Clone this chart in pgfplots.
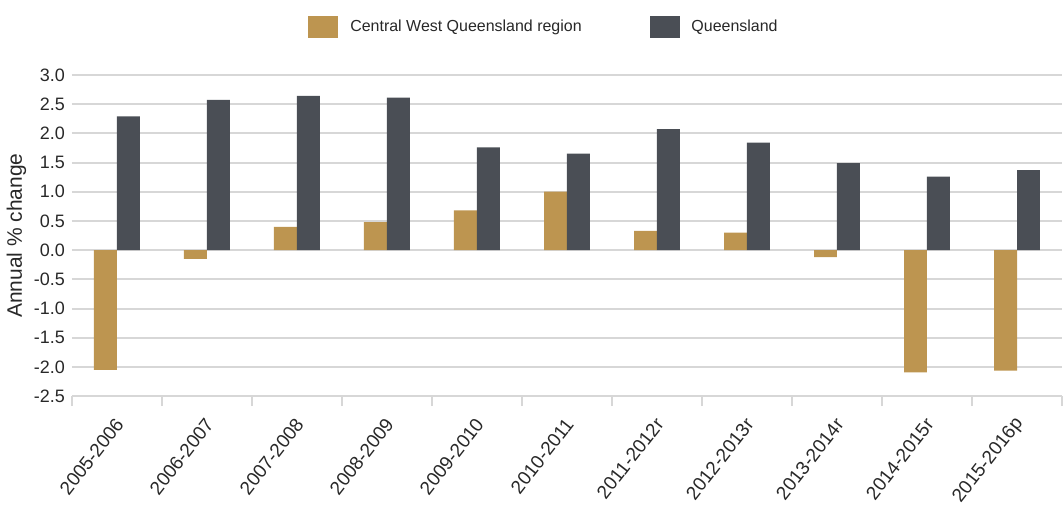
\documentclass[border=0pt]{standalone}
\usepackage{fontspec}
\setmainfont{Liberation Sans}
\usepackage{pgfplots}
\pgfplotsset{compat=1.18}
\definecolor{cwq}{RGB}{189,149,80}
\definecolor{qld}{RGB}{74,78,85}
\definecolor{gridc}{RGB}{215,215,215}
\definecolor{txt}{RGB}{40,40,40}

\begin{document}
\begin{tikzpicture}
\begin{axis}[
  scale only axis, width=496pt, height=161pt,
  ybar=0pt, bar width=11.5pt,
  xmin=-0.5, xmax=10.5, ymin=-2.5, ymax=3.0,
  xtick={0,...,10},
  xticklabels={2005-2006,2006-2007,2007-2008,2008-2009,2009-2010,2010-2011,2011-2012r,2012-2013r,2013-2014r,2014-2015r,2015-2016p},
  x tick label style={xshift=3.5pt, yshift=-9.5pt, rotate=52, anchor=east, font=\fontsize{9.5}{10}\selectfont, text=txt},
  minor xtick={-0.5,0.5,...,10.5},
  major tick length=0pt, minor tick length=5pt,
  tick align=outside,
  minor x tick style={draw=gridc, line width=1pt},
  major x tick style={draw=none},
  ytick={-2.5,-2,...,3},
  y tick label style={/pgf/number format/fixed, /pgf/number format/fixed zerofill,
    /pgf/number format/precision=1, /pgf/number format/assume math mode=true,
    font=\fontsize{9}{10}\selectfont, text=txt},
  major y tick style={draw=none},
  ymajorgrids, grid style={draw=gridc, line width=1pt},
  axis x line*=bottom, axis y line*=left,
  x axis line style={draw=gridc, line width=1pt, -},
  y axis line style={draw=none},
  ylabel={Annual \% change}, ylabel style={font=\fontsize{10.5}{12}\selectfont, text=txt, yshift=-3pt},
  legend style={at={(0.5,1.0)}, anchor=south, yshift=16pt, xshift=-11pt, draw=none, legend columns=2,
    font=\fontsize{8}{9}\selectfont, text=txt,
    /tikz/every odd column/.append style={column sep=4pt},
    /tikz/every even column/.append style={column sep=32pt}},
  legend image code/.code={\fill[#1] (0pt,-5.5pt) rectangle (15pt,5.5pt);},
  clip=false,
]
\addplot[fill=cwq, draw=none] coordinates {
  (0,-2.05) (1,-0.15) (2,0.40) (3,0.48) (4,0.68) (5,1.00)
  (6,0.33) (7,0.30) (8,-0.12) (9,-2.09) (10,-2.06)};
\addplot[fill=qld, draw=none] coordinates {
  (0,2.29) (1,2.57) (2,2.64) (3,2.61) (4,1.76) (5,1.65)
  (6,2.07) (7,1.84) (8,1.49) (9,1.26) (10,1.37)};
\legend{Central West Queensland region, Queensland}
\end{axis}
\path ([yshift=37.5pt]current axis.north west);
\path ([yshift=-55.5pt]current axis.south west);
\end{tikzpicture}
\end{document}
